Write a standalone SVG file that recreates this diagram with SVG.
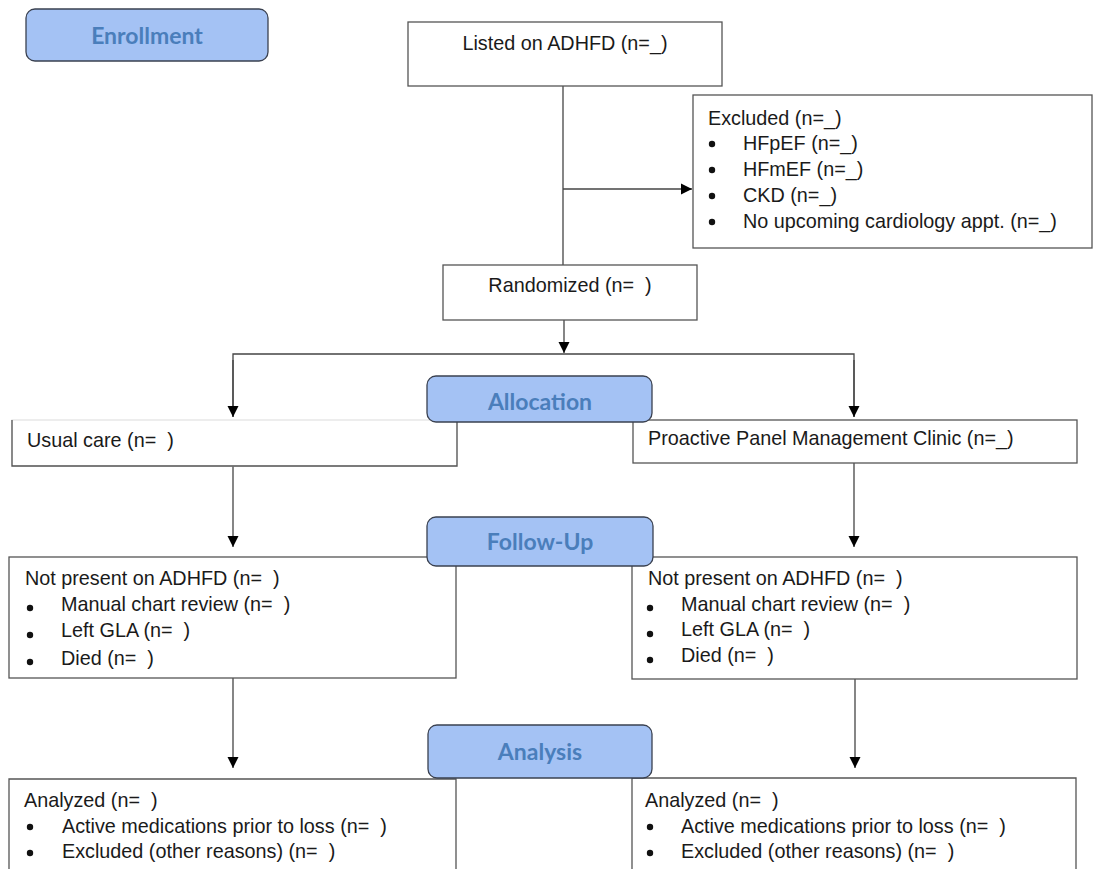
<svg xmlns="http://www.w3.org/2000/svg" width="1094" height="869" viewBox="0 0 1094 869">
<style>
.box{fill:#fff;stroke:#555;stroke-width:1.3}
.hdr{fill:#a4c2f4;stroke:#3a4150;stroke-width:1.3}
.ht{font-family:Lato,"Open Sans",sans-serif;font-weight:bold;font-size:23px;fill:#4a7ebb;text-anchor:middle}
.t{font-family:"Liberation Sans",Arial,sans-serif;font-size:19.8px;fill:#1a1a1a;white-space:pre}
.c{text-anchor:middle}
.ln{fill:none;stroke:#444;stroke-width:1.3}
.b{fill:#111}
</style>
<defs>
<marker id="ah" markerUnits="userSpaceOnUse" markerWidth="12" markerHeight="12" refX="11" refY="6" orient="auto">
<path d="M0,0.5 L11,6 L0,11.5 z" fill="#000"/>
</marker>
</defs>
<g id="connectors">
<line class="ln" x1="563" y1="86" x2="563" y2="265"/>
<line class="ln" x1="563" y1="189" x2="692" y2="189" marker-end="url(#ah)"/>
<line class="ln" x1="564" y1="320" x2="564" y2="353" marker-end="url(#ah)"/>
<polyline class="ln" points="233,417 233,354 854,354 854,417"/>
<line class="ln" x1="233" y1="360" x2="233" y2="417" marker-end="url(#ah)"/>
<line class="ln" x1="854" y1="360" x2="854" y2="417" marker-end="url(#ah)"/>
<line class="ln" x1="233" y1="466" x2="233" y2="547" marker-end="url(#ah)"/>
<line class="ln" x1="854" y1="463" x2="854" y2="547" marker-end="url(#ah)"/>
<line class="ln" x1="233" y1="678" x2="233" y2="768" marker-end="url(#ah)"/>
<line class="ln" x1="855" y1="679" x2="855" y2="768" marker-end="url(#ah)"/>
</g>
<g id="enrollment">
<rect class="hdr" x="26" y="9" width="242" height="52" rx="9"/>
<text class="ht" x="147" y="44">Enrollment</text>
</g>
<g id="listed">
<rect class="box" x="408" y="22" width="314" height="64"/>
<text class="t c" x="565" y="50">Listed on ADHFD (n=_)</text>
</g>
<g id="excluded">
<rect class="box" x="693" y="95" width="399" height="153"/>
<text class="t" x="708" y="125">Excluded (n=_)</text>
<circle class="b" cx="712" cy="144" r="3.2"/>
<text class="t" x="743" y="150">HFpEF (n=_)</text>
<circle class="b" cx="712" cy="170" r="3.2"/>
<text class="t" x="743" y="176">HFmEF (n=_)</text>
<circle class="b" cx="712" cy="196" r="3.2"/>
<text class="t" x="743" y="202">CKD (n=_)</text>
<circle class="b" cx="712" cy="222" r="3.2"/>
<text class="t" x="743" y="228">No upcoming cardiology appt. (n=_)</text>
</g>
<g id="randomized">
<rect class="box" x="443" y="265" width="254" height="55"/>
<text class="t c" x="570" y="292" xml:space="preserve">Randomized (n=  )</text>
</g>
<g id="usual-care">
<rect class="box" x="12" y="420" width="445" height="46" style="stroke:#e4e4e4"/>
<polyline class="ln" points="12,420 12,466 457,466 457,420" style="stroke:#555"/>
<text class="t" x="27" y="447" xml:space="preserve">Usual care (n=  )</text>
</g>
<g id="proactive">
<rect class="box" x="633" y="420" width="444" height="43"/>
<text class="t" x="648" y="445">Proactive Panel Management Clinic (n=_)</text>
</g>
<g id="allocation">
<rect class="hdr" x="427" y="376" width="225" height="46" rx="9"/>
<text class="ht" x="540" y="410">Allocation</text>
</g>
<g id="notpresent-left">
<rect class="box" x="9" y="557" width="447" height="121"/>
<text class="t" x="25" y="585" xml:space="preserve">Not present on ADHFD (n=  )</text>
<circle class="b" cx="30" cy="608" r="3.2"/>
<text class="t" x="61" y="611" xml:space="preserve">Manual chart review (n=  )</text>
<circle class="b" cx="30" cy="635" r="3.2"/>
<text class="t" x="61" y="637" xml:space="preserve">Left GLA (n=  )</text>
<circle class="b" cx="30" cy="662" r="3.2"/>
<text class="t" x="61" y="665" xml:space="preserve">Died (n=  )</text>
</g>
<g id="notpresent-right">
<rect class="box" x="632" y="557" width="445" height="122"/>
<text class="t" x="648" y="585" xml:space="preserve">Not present on ADHFD (n=  )</text>
<circle class="b" cx="650" cy="608" r="3.2"/>
<text class="t" x="681" y="611" xml:space="preserve">Manual chart review (n=  )</text>
<circle class="b" cx="650" cy="634" r="3.2"/>
<text class="t" x="681" y="636" xml:space="preserve">Left GLA (n=  )</text>
<circle class="b" cx="650" cy="660" r="3.2"/>
<text class="t" x="681" y="662" xml:space="preserve">Died (n=  )</text>
</g>
<g id="followup">
<rect class="hdr" x="427" y="517" width="226" height="49" rx="9"/>
<text class="ht" x="540" y="550">Follow-Up</text>
</g>
<g id="analyzed-left">
<polyline class="box" points="9,870 9,779 456,779 456,870"/>
<text class="t" x="24" y="807" xml:space="preserve">Analyzed (n=  )</text>
<circle class="b" cx="30" cy="827" r="3.2"/>
<text class="t" x="62" y="833" xml:space="preserve">Active medications prior to loss (n=  )</text>
<circle class="b" cx="30" cy="853" r="3.2"/>
<text class="t" x="62" y="858" xml:space="preserve">Excluded (other reasons) (n=  )</text>
</g>
<g id="analyzed-right">
<polyline class="box" points="632,870 632,778 1076,778 1076,870"/>
<text class="t" x="645" y="807" xml:space="preserve">Analyzed (n=  )</text>
<circle class="b" cx="650" cy="827" r="3.2"/>
<text class="t" x="681" y="833" xml:space="preserve">Active medications prior to loss (n=  )</text>
<circle class="b" cx="650" cy="853" r="3.2"/>
<text class="t" x="681" y="858" xml:space="preserve">Excluded (other reasons) (n=  )</text>
</g>
<g id="analysis">
<rect class="hdr" x="428" y="725" width="224" height="53" rx="9"/>
<text class="ht" x="540" y="760">Analysis</text>
</g>
</svg>
